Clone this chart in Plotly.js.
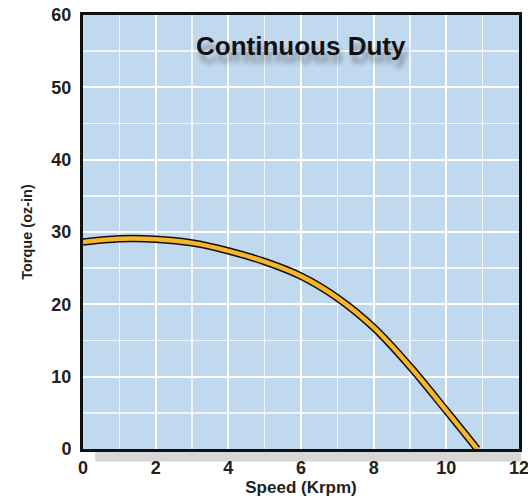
<!DOCTYPE html>
<html>
<head>
<meta charset="utf-8">
<script src="https://cdn.plot.ly/plotly-3.0.1.min.js"></script>
<style>html,body{margin:0;padding:0;background:#fff;}#chart{width:528px;height:500px;}</style>
</head>
<body>
<div id="chart"></div>
<script>
const speed = [0, 1, 2, 3, 4, 5, 6, 7, 8, 9, 10, 10.85];
const torque = [28.6, 29.05, 29.0, 28.5, 27.4, 25.9, 23.9, 20.9, 16.8, 11.4, 5.3, 0];
const xTicks = [0, 2, 4, 6, 8, 10, 12];
const yTicks = [0, 10, 20, 30, 40, 50, 60];
const chartTitle = "Continuous Duty";
const xTitle = "Speed (Krpm)";
const yTitle = "Torque (oz-in)";

const traces = [
  {x: speed, y: torque, mode: "lines", line: {color: "#111", width: 7.5, shape: "spline", smoothing: 1}, hoverinfo: "skip", showlegend: false},
  {x: speed, y: torque, mode: "lines", line: {color: "#f6b52b", width: 4.5, shape: "spline", smoothing: 1}, showlegend: false}
];

const tickFont = {family: "Liberation Sans, Arial, sans-serif", size: 18, color: "#222", weight: "bold"};
const layout = {
  width: 528, height: 500,
  margin: {l: 83, r: 9, t: 15, b: 51},
  paper_bgcolor: "#ffffff",
  plot_bgcolor: "#c1d9ef",
  showlegend: false,
  xaxis: {
    range: [0, 12], tickvals: xTicks, ticktext: xTicks.map(String),
    showgrid: true, gridcolor: "#ffffff", gridwidth: 2,
    minor: {dtick: 1, showgrid: true, gridcolor: "rgba(255,255,255,0.75)", gridwidth: 1.5},
    showline: true, linecolor: "#111", linewidth: 3, mirror: true,
    zeroline: false, ticks: "", tickfont: tickFont, ticklabelstandoff: 0,
    ticklabeloverflow: "allow",
    title: {text: xTitle, font: {family: "Liberation Sans, Arial, sans-serif", size: 17, color: "#222", weight: "bold"}, standoff: 4}
  },
  yaxis: {
    range: [0, 60], tickvals: yTicks, ticktext: yTicks.map(String),
    showgrid: true, gridcolor: "#ffffff", gridwidth: 2,
    minor: {dtick: 5, showgrid: true, gridcolor: "rgba(255,255,255,0.75)", gridwidth: 1.5},
    showline: true, linecolor: "#111", linewidth: 3, mirror: true,
    zeroline: false, ticks: "", tickfont: tickFont, ticklabelstandoff: 5,
    ticklabeloverflow: "allow",
    title: {text: yTitle, font: {family: "Liberation Sans, Arial, sans-serif", size: 14.5, color: "#222", weight: "bold"}, standoff: 16}
  },
  shapes: [
    {type: "rect", xref: "paper", yref: "paper", x0: 0.028, x1: 1.005, y0: -0.029, y1: -0.004,
     fillcolor: "#d6d6d6", line: {width: 0}, layer: "below"}
  ],
  annotations: [
    {text: chartTitle, xref: "paper", yref: "paper", x: 0.5, y: 0.928, showarrow: false,
     xanchor: "center", yanchor: "middle",
     font: {family: "Liberation Sans, Arial, sans-serif", size: 26, color: "#111", weight: "bold",
            shadow: "3px 8px 5px rgba(60,60,60,0.45)"}}
  ]
};
Plotly.newPlot("chart", traces, layout, {displayModeBar: false, staticPlot: true});
</script>
</body>
</html>
